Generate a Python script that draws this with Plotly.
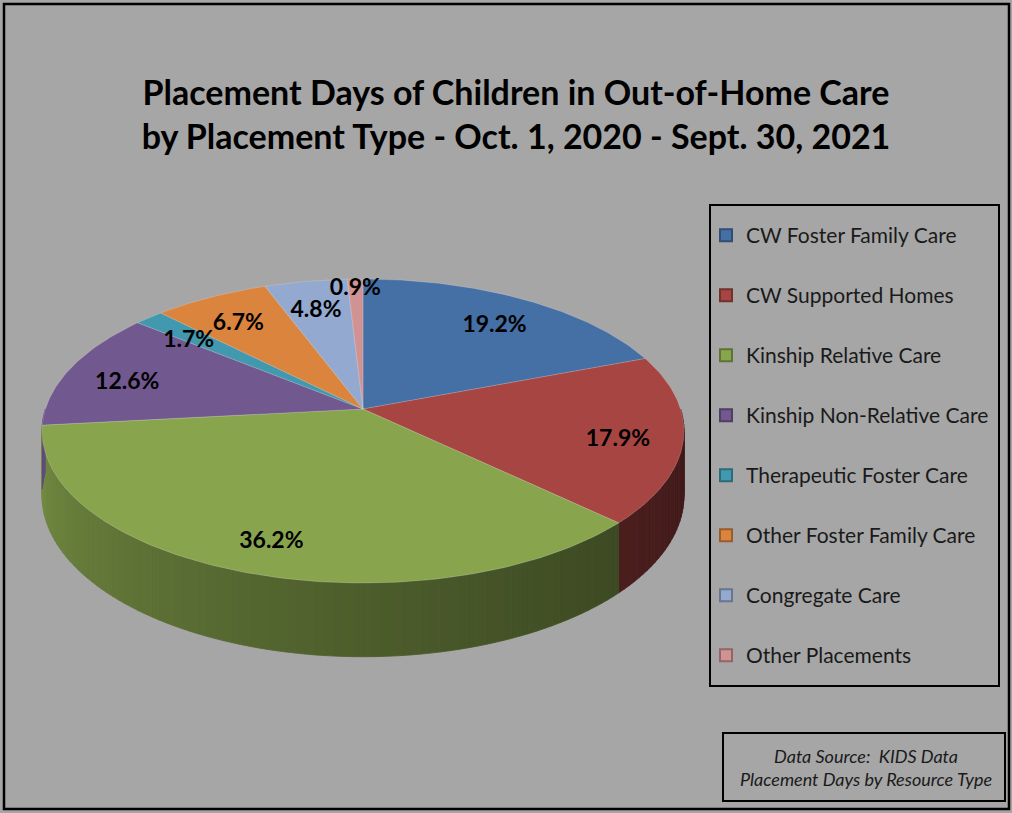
import math
import plotly.graph_objects as go

# ---------------- data ----------------
categories = [
    "CW Foster Family Care",
    "CW Supported Homes",
    "Kinship Relative Care",
    "Kinship Non-Relative Care",
    "Therapeutic Foster Care",
    "Other Foster Family Care",
    "Congregate Care",
    "Other Placements",
]
percents = [19.2, 17.9, 36.2, 12.6, 1.7, 6.7, 4.8, 0.9]
colors = ["#4570A6", "#A74543", "#88A54E", "#71588F",
          "#4198AF", "#DB843D", "#93A9CF", "#D19392"]

title_text = ("Placement Days of Children in Out-of-Home Care<br>"
              "by Placement Type - Oct. 1, 2020 - Sept. 30, 2021")
source_text = "Data Source:\u00a0 KIDS Data<br>Placement Days by Resource Type"

# ---------------- geometry of the 3-D pie (pixel space) ----------------
W, H = 1012, 813
CX, CY = 363, 409          # apex of the pie
A, B = 317.6, 148.8        # ellipse semi-axes
K = 0.145                  # perspective strength
DEPTH = 63                 # thickness of the pie
LABEL_DY = 7               # vertical nudge of the data labels


def proj(theta_deg, f=1.0, z=0.0):
    t = math.radians(theta_deg)
    s = 1.0 / (1.0 + K * f * math.cos(t))
    x = CX + A * f * math.sin(t) * s
    y = CY - B * f * math.cos(t) * s + DEPTH * z * s
    return x, y


def hex_to_rgb(h):
    h = h.lstrip("#")
    return tuple(int(h[i:i + 2], 16) for i in (0, 2, 4))


def shade(h, k):
    r, g, b = hex_to_rgb(h)
    return "rgb(%d,%d,%d)" % (min(255, r * k), min(255, g * k), min(255, b * k))


total = sum(percents)
starts, ends = [], []
acc = 0.0
for p in percents:
    starts.append(acc / total * 360.0)
    acc += p
    ends.append(acc / total * 360.0)

fig = go.Figure()

# ---- side walls (front half only) ----
STEP = 1.5
for i, (a0, a1) in enumerate(zip(starts, ends)):
    lo, hi = max(a0, 90.0), min(a1, 270.0)
    if hi <= lo:
        continue
    n = max(1, int(math.ceil((hi - lo) / STEP)))
    for j in range(n):
        t0 = lo + (hi - lo) * j / n
        t1 = lo + (hi - lo) * (j + 1) / n
        tm = 0.5 * (t0 + t1)
        tt = (tm - 90.0) / 180.0
        k = 0.38 + 0.5 * tt ** 1.4
        p1, p2 = proj(t0), proj(t1)
        p3, p4 = proj(t1, z=1), proj(t0, z=1)
        col = shade(colors[i], k)
        fig.add_trace(go.Scatter(
            x=[p1[0], p2[0], p3[0], p4[0], p1[0]],
            y=[p1[1], p2[1], p3[1], p4[1], p1[1]],
            mode="lines", fill="toself", fillcolor=col,
            line=dict(color=col, width=0.8),
            hoverinfo="skip", showlegend=False))

# ---- top faces ----
for i, (a0, a1) in enumerate(zip(starts, ends)):
    n = max(2, int((a1 - a0) / 1.0) + 1)
    xs, ys = [CX], [CY]
    for j in range(n + 1):
        x, y = proj(a0 + (a1 - a0) * j / n)
        xs.append(x)
        ys.append(y)
    xs.append(CX)
    ys.append(CY)
    fig.add_trace(go.Scatter(
        x=xs, y=ys, mode="lines", fill="toself", fillcolor=colors[i],
        line=dict(color="rgba(255,255,255,0.22)", width=0.8),
        hoverinfo="text", text="%s: %.1f%%" % (categories[i], percents[i]),
        showlegend=False))

# ---- data labels ----
lx, ly, lt = [], [], []
for i, (a0, a1) in enumerate(zip(starts, ends)):
    mid = 0.5 * (a0 + a1)
    f = 0.97 if percents[i] < 1.0 else 0.8
    x, y = proj(mid, f=f)
    lx.append(x)
    ly.append(y + LABEL_DY)
    lt.append("%.1f%%" % percents[i])
fig.add_trace(go.Scatter(
    x=lx, y=ly, mode="text", text=lt,
    textfont=dict(family="Lato", size=23, color="black", weight="bold"),
    textposition="middle center", hoverinfo="skip", showlegend=False))

# ---- legend entries ----
for i, name in enumerate(categories):
    fig.add_trace(go.Scatter(
        x=[None], y=[None], mode="markers", name=name,
        legendgroup="g%d" % i,
        marker=dict(symbol="square", size=12, color=colors[i],
                    line=dict(color=shade(colors[i], 0.7), width=1.5))))

# ---------------- layout ----------------
shapes = [
    dict(type="rect", xref="x", yref="y", x0=4, y0=4, x1=1009, y1=809,
         line=dict(color="black", width=2.5), fillcolor="rgba(0,0,0,0)"),
    dict(type="rect", xref="x", yref="y", x0=710, y0=205, x1=999, y1=686,
         line=dict(color="black", width=2), fillcolor="rgba(0,0,0,0)"),
    dict(type="rect", xref="x", yref="y", x0=723, y0=733, x1=1005, y1=801,
         line=dict(color="black", width=2), fillcolor="rgba(0,0,0,0)"),
]

fig.update_layout(
    width=W, height=H,
    margin=dict(l=0, r=0, t=0, b=0),
    paper_bgcolor="#A6A6A6", plot_bgcolor="#A6A6A6",
    xaxis=dict(range=[0, W], visible=False, fixedrange=True),
    yaxis=dict(range=[H, 0], visible=False, fixedrange=True),
    showlegend=True,
    legend=dict(x=706 / W, y=1 - 215 / H, xanchor="left", yanchor="top",
                bgcolor="rgba(0,0,0,0)", borderwidth=0,
                font=dict(family="Lato", size=21, color="#1a1a1a"),
                tracegroupgap=29.7, itemsizing="constant"),
    title=dict(text=title_text, x=516 / W, xanchor="center",
               y=1 - 105 / H, yanchor="middle",
               font=dict(family="Lato", size=34, color="black", weight="bold")),
    shapes=shapes,
    annotations=[dict(text=source_text, x=866, y=767, xref="x", yref="y",
                      showarrow=False, align="center",
                      font=dict(family="Lato", size=18, color="#1a1a1a",
                                style="italic"))],
    hovermode="closest",
)

fig.write_html(
    "out.html",
    config={"displayModeBar": False},
    post_script="document.body.style.margin='0';"
                "document.body.style.overflow='hidden';"
                "document.body.style.background='#A6A6A6';",
)
